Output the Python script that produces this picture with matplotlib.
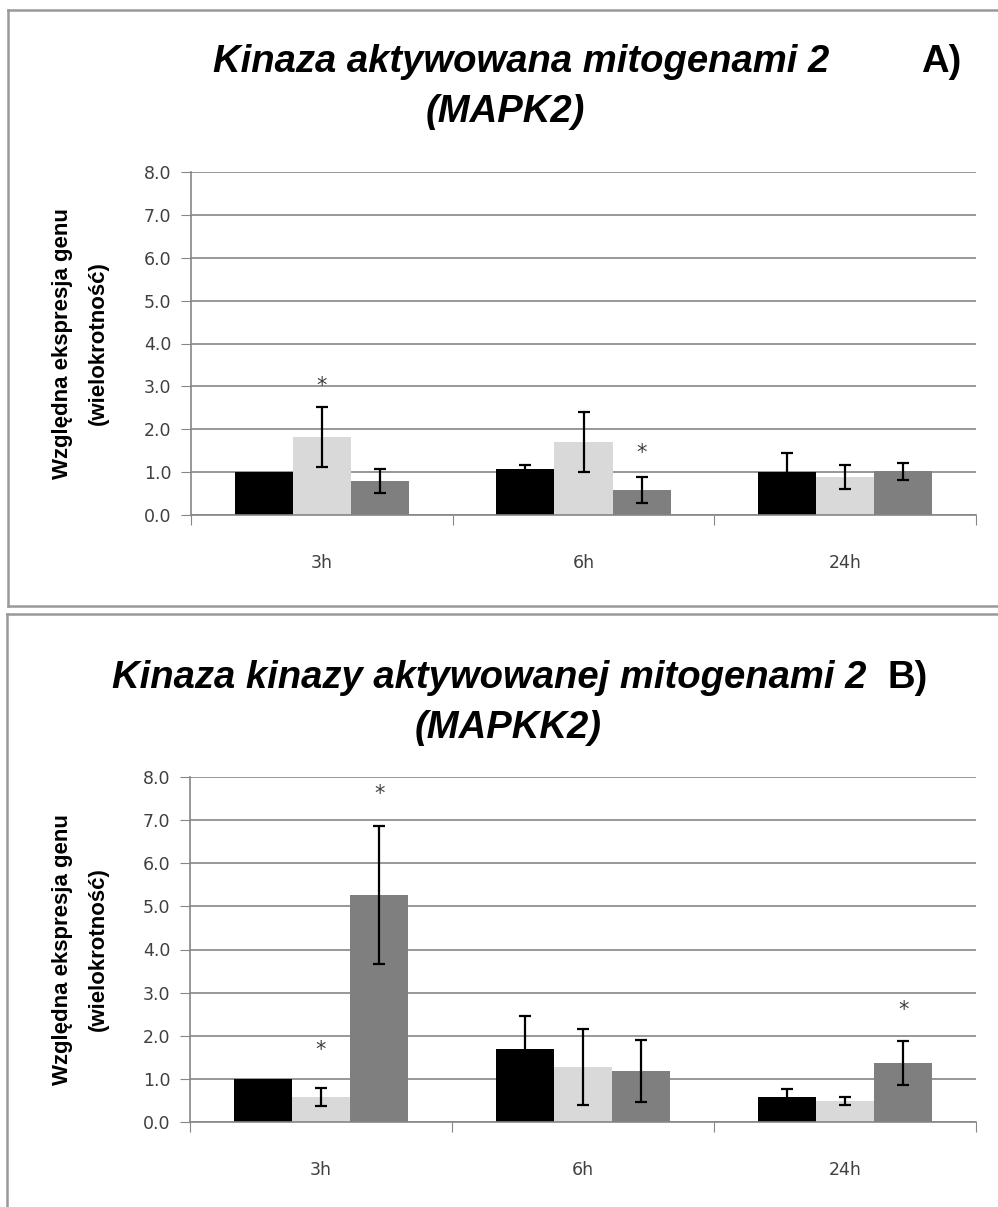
import numpy as np
import matplotlib
matplotlib.use('Agg')
import matplotlib.pyplot as plt
from matplotlib.lines import Line2D

# data
categories = ['3h', '6h', '24h']
colors = ['#000000', '#d9d9d9', '#7f7f7f']

# panel A - MAPK2
a_vals = [[1.00, 1.07, 1.00],
          [1.82, 1.70, 0.89],
          [0.79, 0.58, 1.02]]
a_errs = [[0.00, 0.09, 0.45],
          [0.70, 0.70, 0.28],
          [0.28, 0.30, 0.20]]
a_stars = [(0, 1, 3.0), (1, 2, 1.45)]

# panel B - MAPKK2
b_vals = [[1.00, 1.70, 0.58],
          [0.58, 1.28, 0.49],
          [5.27, 1.18, 1.37]]
b_errs = [[0.00, 0.76, 0.19],
          [0.20, 0.88, 0.10],
          [1.60, 0.71, 0.51]]
b_stars = [(0, 1, 1.67), (0, 2, 7.6), (2, 2, 2.6)]

yticks = np.arange(0, 8.01, 1.0)

W, H = 998, 1207
fig = plt.figure(figsize=(W / 100, H / 100), dpi=100)


def fx(x):
    return x / W


def fy(y):
    return 1 - y / H


def draw_panel(left, top, right, bottom, vals, errs, stars):
    ax = fig.add_axes([fx(left), fy(bottom), fx(right - left), (bottom - top) / H])
    x = np.arange(len(categories))
    w = 0.222
    for j in range(3):
        ax.bar(x + (j - 1) * w, vals[j], width=w, color=colors[j], zorder=2)
        e = np.array(errs[j], dtype=float)
        e[e == 0] = np.nan
        ax.errorbar(x + (j - 1) * w, vals[j], yerr=e, fmt='none',
                    ecolor='black', elinewidth=1.6, capsize=4.5, capthick=1.6, zorder=3)
    for g, s, yv in stars:
        ax.text(g + (s - 1) * w, yv, '*', ha='center', va='center',
                fontsize=15, color='#404040', family='DejaVu Sans')
    ax.set_xlim(-0.5, 2.5)
    ax.set_ylim(0, 8)
    ax.set_yticks(yticks)
    ax.set_yticklabels(['%.1f' % t for t in yticks], fontsize=12.5, color='#404040',
                       family='DejaVu Sans')
    ax.set_xticks([-0.5, 0.5, 1.5, 2.5])
    ax.set_xticklabels([])
    ax.set_xticks(x, minor=True)
    ax.set_xticklabels(categories, minor=True, fontsize=12.5, color='#404040',
                       family='DejaVu Sans')
    ax.tick_params(axis='x', which='minor', length=0, pad=28)
    ax.tick_params(axis='x', which='major', length=7, color='#868686', direction='out')
    ax.tick_params(axis='y', length=7, color='#868686', direction='out', pad=7)
    ax.yaxis.grid(True, color='#868686', linewidth=1.2, zorder=0)
    ax.set_axisbelow(True)
    for sp in ['top', 'right']:
        ax.spines[sp].set_visible(False)
    for sp in ['left', 'bottom']:
        ax.spines[sp].set_color('#868686')
        ax.spines[sp].set_linewidth(1.2)
    cy = fy((top + bottom) / 2)
    fig.text(fx(63), cy, 'Względna ekspresja genu', rotation=90, ha='center', va='center',
             fontsize=16, fontweight='bold', family='Liberation Sans')
    fig.text(fx(98), cy, '(wielokrotność)', rotation=90, ha='center', va='center',
             fontsize=16, fontweight='bold', family='Liberation Sans')
    return ax


draw_panel(191, 172, 976, 515, a_vals, a_errs, a_stars)
draw_panel(190, 777, 976, 1122, b_vals, b_errs, b_stars)

title_kw = dict(fontsize=27.5, fontweight='bold', style='italic', family='Liberation Sans',
                va='baseline')
fig.text(fx(521), fy(72), 'Kinaza aktywowana mitogenami 2', ha='center', **title_kw)
fig.text(fx(505), fy(122), '(MAPK2)', ha='center', **title_kw)
fig.text(fx(941), fy(72), 'A)', ha='center', fontsize=27.5, fontweight='bold',
         family='Liberation Sans', va='baseline')

fig.text(fx(489), fy(688), 'Kinaza kinazy aktywowanej mitogenami 2', ha='center', **title_kw)
fig.text(fx(508), fy(738), '(MAPKK2)', ha='center', **title_kw)
fig.text(fx(908), fy(688), 'B)', ha='center', fontsize=27.5, fontweight='bold',
         family='Liberation Sans', va='baseline')

# panel frames
frame_kw = dict(color='#999999', linewidth=1.8, transform=fig.transFigure)
fig.add_artist(Line2D([fx(8), fx(998)], [fy(10), fy(10)], **frame_kw))
fig.add_artist(Line2D([fx(8), fx(8)], [fy(10), fy(606)], **frame_kw))
fig.add_artist(Line2D([fx(8), fx(998)], [fy(606), fy(606)], **frame_kw))
fig.add_artist(Line2D([fx(7), fx(998)], [fy(614), fy(614)], **frame_kw))
fig.add_artist(Line2D([fx(7), fx(7)], [fy(614), fy(1207)], **frame_kw))

fig.savefig('out.png', dpi=100)
